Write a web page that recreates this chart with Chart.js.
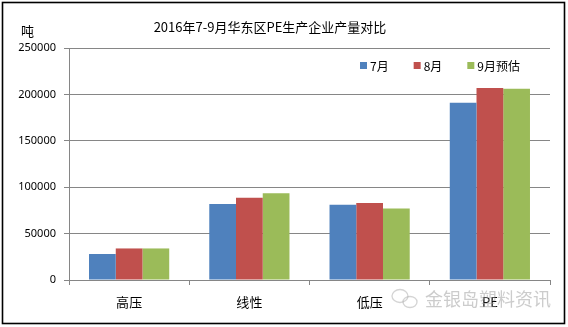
<!DOCTYPE html>
<html>
<head>
<meta charset="utf-8">
<script src="https://cdn.jsdelivr.net/npm/chart.js@4"></script>
<style>
  html, body { margin: 0; padding: 0; background: #fff; }
  #wrap { width: 568px; height: 327px; }
</style>
</head>
<body>
<div id="wrap"><canvas id="c" width="568" height="327"></canvas></div>
<script>
// Monthly PE output by product type, East China region (tonnes)
const categories = ['高压', '线性', '低压', 'PE'];
const seriesNames = ['7月', '8月', '9月预估'];
const julValues = [28000, 82000, 81000, 191000];
const augValues = [34000, 88500, 83000, 207000];
const sepValues = [34000, 93500, 77000, 206000];
const yTicks = [0, 50000, 100000, 150000, 200000, 250000];

const colors = ['#4F81BD', '#C0504D', '#9BBB59'];
const gridColor = '#868686';
const cjk = '"Noto Sans CJK SC", "Noto Sans", sans-serif';

// Frame, title, unit, legend and footer mark
const decorations = {
  id: 'decorations',
  beforeDraw(chart) {
    const ctx = chart.ctx;
    ctx.save();
    ctx.fillStyle = '#fff';
    ctx.fillRect(0, 0, chart.width, chart.height);
    ctx.restore();
  },
  afterDraw(chart) {
    const ctx = chart.ctx;
    ctx.save();
    // outer frame
    ctx.strokeStyle = '#000';
    ctx.lineWidth = 1.6;
    ctx.strokeRect(2.5, 2.5, 562, 321);

    // title
    ctx.fillStyle = '#000';
    ctx.font = '13px ' + cjk;
    ctx.textAlign = 'center';
    ctx.textBaseline = 'middle';
    ctx.fillText('2016年7-9月华东区PE生产企业产量对比', 270, 27);

    // unit
    ctx.font = '13px ' + cjk;
    ctx.textAlign = 'left';
    ctx.fillText('吨', 21, 31);

    // legend
    ctx.font = '12px ' + cjk;
    ctx.textBaseline = 'middle';
    let x = 360;
    const ly = 66;
    chart.data.datasets.forEach((ds, i) => {
      ctx.fillStyle = ds.backgroundColor;
      ctx.fillRect(x, ly - 4, 7, 7);
      ctx.fillStyle = '#000';
      ctx.fillText(ds.label, x + 10, ly);
      x += 10 + ctx.measureText(ds.label).width + 25;
    });

    // footer mark
    ctx.globalAlpha = 0.5;
    ctx.strokeStyle = '#aaa';
    ctx.lineWidth = 1.3;
    ctx.beginPath();
    ctx.ellipse(400, 296, 8, 6.5, 0, 0, Math.PI * 2);
    ctx.stroke();
    ctx.beginPath();
    ctx.ellipse(410, 302, 7, 5.5, 0, 0, Math.PI * 2);
    ctx.stroke();
    ctx.fillStyle = '#999';
    ctx.font = '18px ' + cjk;
    ctx.textAlign = 'left';
    ctx.textBaseline = 'middle';
    ctx.fillText('金银岛塑料资讯', 425, 299);
    ctx.restore();
  }
};

new Chart(document.getElementById('c'), {
  type: 'bar',
  data: {
    labels: categories,
    datasets: [
      { label: seriesNames[0], data: julValues, backgroundColor: colors[0] },
      { label: seriesNames[1], data: augValues, backgroundColor: colors[1] },
      { label: seriesNames[2], data: sepValues, backgroundColor: colors[2] }
    ]
  },
  options: {
    responsive: false,
    animation: false,
    layout: { padding: { top: 48, right: 18, bottom: 0, left: 0 } },
    plugins: {
      legend: { display: false },
      title: { display: false },
      tooltip: { enabled: false }
    },
    datasets: {
      bar: { categoryPercentage: 0.667, barPercentage: 1.0, borderWidth: 0 }
    },
    scales: {
      x: {
        afterFit(scale) { scale.height = 47; },
        grid: {
          display: true,
          drawOnChartArea: false,
          drawTicks: true,
          tickLength: 5,
          color: gridColor,
          offset: true
        },
        border: { display: true, color: gridColor, width: 1 },
        ticks: {
          color: '#000',
          padding: 9,
          font: { family: cjk, size: 13 }
        }
      },
      y: {
        min: 0,
        max: 250000,
        afterFit(scale) { scale.width = 69; },
        afterBuildTicks(scale) { scale.ticks = yTicks.map(v => ({ value: v })); },
        grid: {
          color: gridColor,
          lineWidth: 1,
          drawTicks: true,
          tickLength: 5
        },
        border: { display: true, color: gridColor, width: 1 },
        ticks: {
          color: '#000',
          padding: 8,
          font: { family: '"Noto Sans", sans-serif', size: 11 },
          callback: v => String(v)
        }
      }
    }
  },
  plugins: [decorations]
});
</script>
</body>
</html>
